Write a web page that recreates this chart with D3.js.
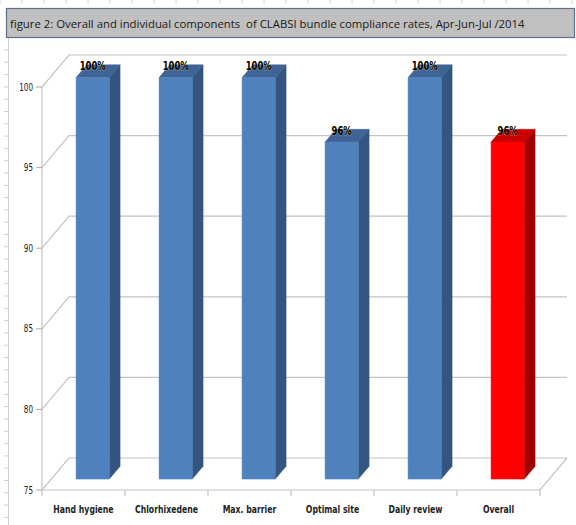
<!DOCTYPE html>
<html lang="en">
<head>
    <meta charset="UTF-8">
    <script src="https://d3js.org/d3.v7.min.js"></script>
    <title></title>
    <style>
        body { margin: 0; background: #fff; }
        .narrow { font-family: "DejaVu Sans Condensed", "Liberation Sans", sans-serif; }
    </style>
</head>
<body>
    <div id="chartContainer">
        <script type="text/javascript">
            // data
            var categories = ["Hand hygiene", "Chlorhixedene", "Max. barrier", "Optimal site", "Daily review", "Overall"];
            var rates = [100, 100, 100, 96, 100, 96];
            var rateLabels = ["100%", "100%", "100%", "96%", "100%", "96%"];
            var yTicks = [75, 80, 85, 90, 95, 100];
            var titleText = "figure 2: Overall and individual components  of CLABSI bundle compliance rates, Apr-Jun-Jul /2014";

            var W = 576, H = 525;
            var svg = d3.select("#chartContainer").append("svg")
                .attr("width", W).attr("height", H);

            // spreadsheet ruler remains
            var rulerTop = d3.range(0, W, 22);
            svg.selectAll(".rt").data(rulerTop).enter().append("line")
                .attr("x1", function (d) { return d; }).attr("x2", function (d) { return d; })
                .attr("y1", 0).attr("y2", 4)
                .style("stroke", "#d4d4d4");
            svg.append("line").attr("x1", 8.5).attr("x2", 8.5).attr("y1", 38).attr("y2", H)
                .style("stroke", "#d0d0d0");
            svg.selectAll(".rl").data(d3.range(50, H, 12.3)).enter().append("line")
                .attr("x1", 4).attr("x2", 8.5)
                .attr("y1", function (d) { return d; }).attr("y2", function (d) { return d; })
                .style("stroke", "#cfcfcf");

            // title bar
            svg.append("rect").attr("x", 6.5).attr("y", 8.5).attr("width", 568).attr("height", 29)
                .style("fill", "#c0c0c0").style("stroke", "#5f6f88").style("stroke-width", 1.2);
            var title = svg.append("text").attr("x", 10).attr("y", 28)
                .style("font-family", "'Open Sans', 'Liberation Sans', sans-serif")
                .style("font-size", "13px").style("fill", "#1a1a1a")
                .style("white-space", "pre")
                .text(titleText);
            // fit the title to the width it has in the original
            var tlen = title.node().getComputedTextLength();
            title.style("font-size", (13 * 515 / tlen) + "px");

            // scales
            var x = d3.scaleBand().domain(categories).range([42, 540]).paddingInner(0.6).paddingOuter(0.3);
            var band = d3.scaleBand().domain(categories).range([42, 540]);
            var y = d3.scaleLinear().domain([75, 100]).range([490, 87]);

            // 3D depth offset
            var DX = 27, DY = -32;
            function off(f) { return [DX * f, DY * f]; }
            var f0 = 0.34, f1 = 0.74;

            var grid = "#c4c4c4";

            // gridlines on side wall and back wall
            svg.selectAll(".grid").data(yTicks).enter().append("polyline")
                .attr("points", function (d) {
                    return [[42, y(d)], [42 + DX, y(d) + DY], [540 + DX, y(d) + DY]].join(" ");
                })
                .style("fill", "none").style("stroke", grid).style("stroke-width", 1.2);

            // floor
            svg.append("polyline")
                .attr("points", [[42, y(75)], [540, y(75)], [540 + DX, y(75) + DY]].join(" "))
                .style("fill", "none").style("stroke", grid).style("stroke-width", 1.2);

            // bars
            var bars = svg.selectAll(".bar").data(categories).enter().append("g");
            function shape(d, i, face) {
                var x0 = x(d), x1 = x(d) + x.bandwidth();
                var yt = y(rates[i]) + 1.5, yb = y(75);
                var a = off(f0), b = off(f1);
                if (face === "front") {
                    return [[x0 + a[0], yt + a[1]], [x1 + a[0], yt + a[1]], [x1 + a[0], yb + a[1]], [x0 + a[0], yb + a[1]]];
                } else if (face === "side") {
                    return [[x1 + a[0], yt + a[1]], [x1 + b[0], yt + b[1]], [x1 + b[0], yb + b[1]], [x1 + a[0], yb + a[1]]];
                }
                return [[x0 + a[0], yt + a[1]], [x0 + b[0], yt + b[1]], [x1 + b[0], yt + b[1]], [x1 + a[0], yt + a[1]]];
            }
            var colors = {
                blue: { front: "#4f81bd", side: "#33557f", top: "#3d6494" },
                red: { front: "#ff0000", side: "#a00000", top: "#c80000" }
            };
            ["side", "top", "front"].forEach(function (face) {
                bars.append("polygon")
                    .attr("points", function (d, i) { return shape(d, i, face).join(" "); })
                    .style("fill", function (d) { return (d === "Overall" ? colors.red[face] : colors.blue[face]); })
                    .style("stroke", function (d) { return (d === "Overall" ? colors.red[face] : colors.blue[face]); })
                    .style("stroke-width", 0.5);
            });

            // value labels
            bars.append("text")
                .attr("class", "narrow vlab")
                .attr("x", function (d) { return x(d) + x.bandwidth() / 2 + off(f0)[0]; })
                .attr("y", function (d, i) { return y(rates[i]) + off(f0)[1] - 6; })
                .attr("text-anchor", "middle")
                .style("font-size", "12px").style("font-weight", "bold").style("fill", "#000")
                .style("paint-order", "stroke").style("stroke", "rgba(255,235,170,0.4)").style("stroke-width", 1.2)
                .text(function (d, i) { return rateLabels[i]; });

            // y axis
            svg.append("line").attr("x1", 42).attr("x2", 42).attr("y1", y(100)).attr("y2", y(75))
                .style("stroke", grid).style("stroke-width", 1.2);
            var yAxis = svg.selectAll(".yt").data(yTicks).enter().append("g");
            yAxis.append("line").attr("x1", 36).attr("x2", 42)
                .attr("y1", function (d) { return y(d); }).attr("y2", function (d) { return y(d); })
                .style("stroke", "#a8a8a8");
            yAxis.append("text").attr("class", "narrow ylab")
                .attr("x", 33).attr("y", function (d) { return y(d) + 3.5; })
                .attr("text-anchor", "end")
                .style("font-size", "10px").style("fill", "#222")
                .text(function (d) { return d; });

            // x axis ticks + labels
            var xt = band.domain().map(function (d) { return band(d); }).concat([540]);
            svg.selectAll(".xt").data(xt).enter().append("line")
                .attr("x1", function (d) { return d; }).attr("x2", function (d) { return d; })
                .attr("y1", y(75)).attr("y2", y(75) + 6)
                .style("stroke", grid).style("stroke-width", 1.2);
            svg.selectAll(".xl").data(categories).enter().append("text")
                .attr("class", "narrow xlab")
                .attr("x", function (d) { return band(d) + band.bandwidth() / 2; })
                .attr("y", 513)
                .attr("text-anchor", "middle")
                .style("font-size", "10.5px").style("font-weight", "bold").style("fill", "#222")
                .text(function (d) { return d; });

            // squeeze the label text to look like a narrow font
            function squeeze(sel, k) {
                svg.selectAll(sel).each(function () {
                    var len = this.getComputedTextLength();
                    d3.select(this).attr("textLength", len * k).attr("lengthAdjust", "spacingAndGlyphs");
                });
            }
            squeeze(".vlab", 0.78);
            squeeze(".ylab", 0.8);
            squeeze(".xlab", 0.82);
        </script>
    </div>
</body>
</html>
